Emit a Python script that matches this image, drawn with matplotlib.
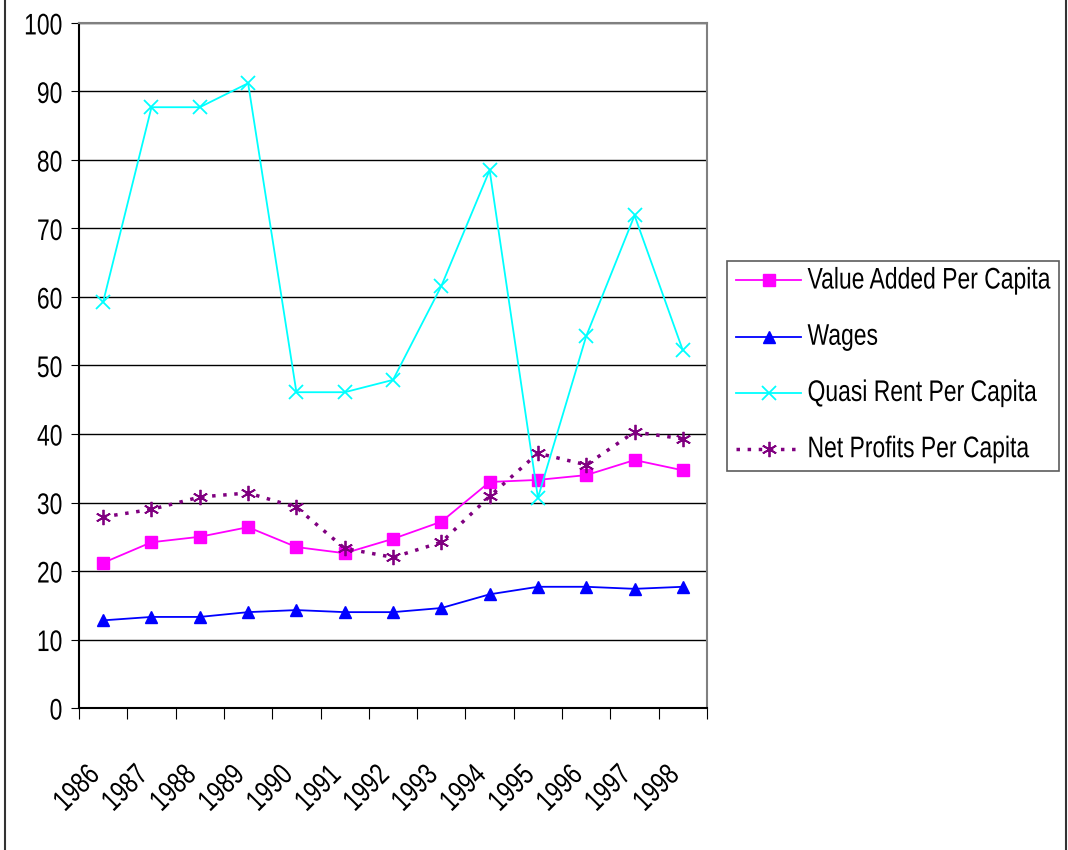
import numpy as np
import matplotlib.pyplot as plt
from matplotlib.lines import Line2D
from matplotlib.patheffects import AbstractPathEffect
from matplotlib.transforms import Affine2D, ScaledTranslation

plt.rcParams['font.family'] = ['Liberation Sans', 'DejaVu Sans']

years = ['1986', '1987', '1988', '1989', '1990', '1991', '1992',
         '1993', '1994', '1995', '1996', '1997', '1998']
value_added = [21.2, 24.2, 25.0, 26.4, 23.5, 22.6, 24.7, 27.2, 33.0, 33.3, 34.0, 36.2, 34.7]
wages = [12.8, 13.3, 13.3, 14.0, 14.3, 14.0, 14.0, 14.6, 16.6, 17.7, 17.7, 17.4, 17.7]
quasi_rent = [59.3, 87.7, 87.7, 91.2, 46.1, 46.1, 47.9, 61.6, 78.5, 30.7, 54.3, 71.9, 52.2]
net_profits = [27.9, 29.0, 30.8, 31.4, 29.3, 23.3, 22.0, 24.2, 30.9, 37.2, 35.5, 40.3, 39.3]


class Tall(AbstractPathEffect):
    """Stretch glyphs upward from the baseline (narrow-looking type)."""

    def __init__(self, sy=1.3):
        super().__init__()
        self.sy = sy

    def draw_path(self, renderer, gc, tpath, affine, rgbFace=None):
        renderer.draw_path(gc, tpath, Affine2D().scale(1, self.sy) + affine, rgbFace)


FS = 16.5
tall = [Tall(1.3)]

fig = plt.figure(figsize=(10.68, 8.5), dpi=100)
ax = fig.add_axes([0.074, 0.167, 0.588, 0.806])

# side edges of the chart frame
for xf in (4.5 / 1068, 1065.5 / 1068):
    fig.add_artist(Line2D([xf, xf], [0, 1], transform=fig.transFigure,
                          color='#333333', lw=1.5))

x = np.arange(len(years))
ax.plot(x, value_added, color='#FF00FF', lw=1.3, marker='s', ms=9,
        label='Value Added Per Capita')
ax.plot(x, wages, color='#0000FF', lw=1.3, marker='^', ms=9,
        label='Wages')
ax.plot(x, quasi_rent, color='#00FFFF', lw=1.3, marker='x', ms=10, mew=1.3,
        label='Quasi Rent Per Capita')
ax.plot(x, net_profits, color='#800080', lw=2.5, ls=(0, (1, 2.2)),
        marker=(6, 2, 0), ms=11, mew=1.3, label='Net Profits Per Capita')

ax.set_xlim(-0.5, len(years) - 0.5)
ax.set_ylim(0, 100)
ax.set_yticks(np.arange(0, 101, 10))
ax.yaxis.grid(True, color='black', lw=1)
ax.set_axisbelow(True)

# category ticks sit between the years, labels at the centres
ax.set_xticks(np.arange(-0.5, len(years), 1))
ax.set_xticklabels([])
ax.set_xticks(x, minor=True)
ax.set_xticklabels(years, minor=True, rotation=45, ha='center', va='top',
                   fontsize=FS)
ax.tick_params(axis='x', which='minor', length=0, pad=40)
ax.tick_params(axis='x', which='major', length=8, direction='out')
ax.tick_params(axis='y', length=6, labelsize=FS, pad=6)

xshift = ScaledTranslation(-0.25, 0, fig.dpi_scale_trans)
for lab in ax.get_xticklabels(minor=True):
    lab.set_transform(lab.get_transform() + xshift)
    lab.set_path_effects(tall)
yshift = ScaledTranslation(0, -0.025, fig.dpi_scale_trans)
for lab in ax.get_yticklabels():
    lab.set_transform(lab.get_transform() + yshift)
    lab.set_path_effects(tall)

for side in ['top', 'right']:
    ax.spines[side].set_color('#808080')
    ax.spines[side].set_linewidth(1.5)
ax.spines['left'].set_linewidth(1.5)
ax.spines['bottom'].set_linewidth(1.5)

leg = fig.legend(loc='center left', bbox_to_anchor=(0.681, 0.569), fontsize=FS,
                 frameon=True, fancybox=False, edgecolor='#333333',
                 handlelength=2.8, labelspacing=1.45, borderpad=0.4,
                 handletextpad=0.3, borderaxespad=0)
leg.get_frame().set_linewidth(1.2)
for t in leg.get_texts():
    t.set_path_effects(tall)

fig.savefig('out.png', dpi=100)
